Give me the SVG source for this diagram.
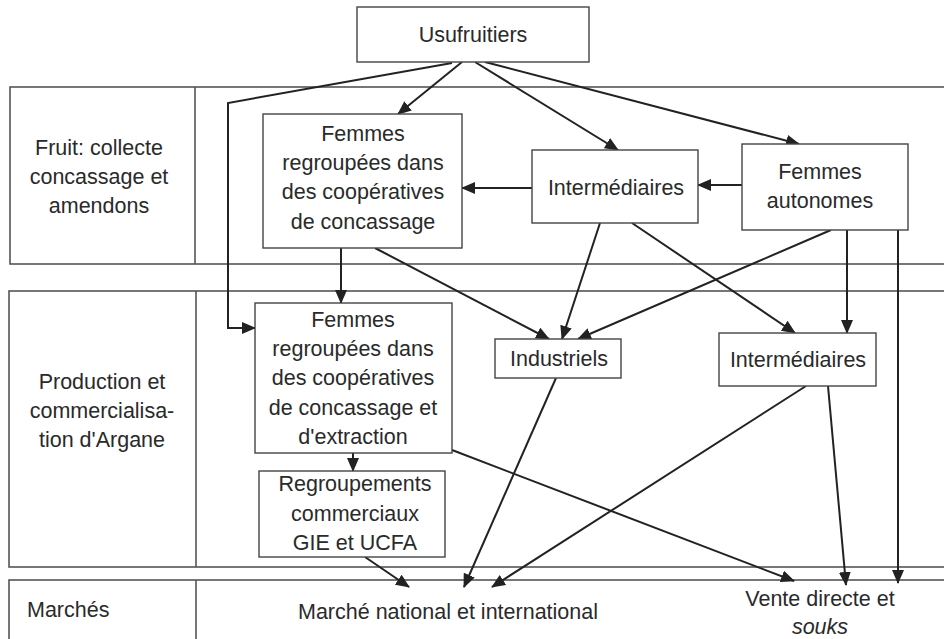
<svg xmlns="http://www.w3.org/2000/svg" width="944" height="639" viewBox="0 0 944 639">
<style>
.band{fill:none;stroke:#555;stroke-width:1.6}
.box{fill:#fff;stroke:#444;stroke-width:1.4}
.t{font-family:"Liberation Sans",Arial,sans-serif;font-size:21.5px;fill:#2a2a2a;text-anchor:middle}
.c{fill:none;stroke:#222;stroke-width:2;marker-end:url(#ah)}
.cn{fill:none;stroke:#222;stroke-width:2}
</style>
<defs>
<marker id="ah" markerUnits="userSpaceOnUse" markerWidth="14" markerHeight="12" viewBox="0 0 14 12" refX="13" refY="6" orient="auto">
<path d="M0,0 L14,6 L0,12 z" fill="#222"/>
</marker>
</defs>
<rect width="944" height="639" fill="#fff"/>
<g id="bands">
<rect class="band" x="10" y="87" width="950" height="177"/>
<line class="band" x1="195" y1="87" x2="195" y2="264"/>
<rect class="band" x="9" y="291" width="950" height="276"/>
<line class="band" x1="196" y1="291" x2="196" y2="567"/>
<rect class="band" x="9" y="580" width="950" height="80"/>
<line class="band" x1="196" y1="580" x2="196" y2="639"/>
<text class="t" x="99" y="155">Fruit: collecte</text>
<text class="t" x="99" y="184">concassage et</text>
<text class="t" x="99" y="213">amendons</text>
<text class="t" x="102" y="389">Production et</text>
<text class="t" x="102" y="418">commercialisa-</text>
<text class="t" x="102" y="447">tion d'Argane</text>
<text class="t" x="27" y="617" style="text-anchor:start">Marchés</text>
</g>
<g id="connectors">
<line class="c" x1="462" y1="62" x2="398" y2="114"/>
<polyline class="c" points="452,63 228,103 228,328 255,328"/>
<line class="c" x1="475" y1="62" x2="618" y2="150"/>
<line class="c" x1="485" y1="62" x2="799" y2="144"/>
<line class="c" x1="742" y1="185" x2="698" y2="185"/>
<line class="c" x1="532" y1="188" x2="462" y2="188"/>
<line class="c" x1="341" y1="248" x2="341" y2="303"/>
<line class="c" x1="375" y1="248" x2="549" y2="339"/>
<line class="c" x1="600" y1="223" x2="562" y2="339"/>
<line class="c" x1="632" y1="223" x2="795" y2="333"/>
<line class="c" x1="831" y1="230" x2="578" y2="339"/>
<line class="c" x1="847" y1="230" x2="847" y2="333"/>
<line class="c" x1="898" y1="230" x2="898" y2="583"/>
<line class="c" x1="353" y1="453" x2="353" y2="471"/>
<line class="c" x1="452" y1="450" x2="794" y2="581"/>
<line class="c" x1="365" y1="557" x2="409" y2="587"/>
<line class="c" x1="556" y1="378" x2="464" y2="587"/>
<line class="c" x1="806" y1="386" x2="492" y2="587"/>
<line class="c" x1="828" y1="386" x2="846" y2="585"/>
</g>
<g id="usufruitiers">
<rect class="box" x="357" y="7" width="232" height="55"/>
<text class="t" x="473" y="42">Usufruitiers</text>
</g>
<g id="femmes-concassage">
<rect class="box" x="263" y="114" width="199" height="134"/>
<text class="t" x="363" y="141">Femmes</text>
<text class="t" x="363" y="170">regroupées dans</text>
<text class="t" x="363" y="199">des coopératives</text>
<text class="t" x="363" y="229">de concassage</text>
</g>
<g id="intermediaires-1">
<rect class="box" x="532" y="150" width="166" height="73"/>
<text class="t" x="616" y="195">Intermédiaires</text>
</g>
<g id="femmes-autonomes">
<rect class="box" x="742" y="144" width="166" height="86"/>
<text class="t" x="820" y="179">Femmes</text>
<text class="t" x="820" y="208">autonomes</text>
</g>
<g id="femmes-extraction">
<rect class="box" x="255" y="303" width="197" height="150"/>
<text class="t" x="353" y="327">Femmes</text>
<text class="t" x="353" y="356">regroupées dans</text>
<text class="t" x="353" y="385">des coopératives</text>
<text class="t" x="353" y="415">de concassage et</text>
<text class="t" x="353" y="444">d'extraction</text>
</g>
<g id="regroupements">
<rect class="box" x="259" y="471" width="186" height="86"/>
<text class="t" x="355" y="491">Regroupements</text>
<text class="t" x="355" y="521">commerciaux</text>
<text class="t" x="355" y="550">GIE et UCFA</text>
</g>
<g id="industriels">
<rect class="box" x="495" y="339" width="126" height="39"/>
<text class="t" x="559" y="366">Industriels</text>
</g>
<g id="intermediaires-2">
<rect class="box" x="719" y="333" width="157" height="53"/>
<text class="t" x="798" y="367">Intermédiaires</text>
</g>
<g id="marche">
<text class="t" x="448" y="619">Marché national et international</text>
</g>
<g id="vente">
<text class="t" x="820" y="606">Vente directe et</text>
<text class="t" x="820" y="634" style="font-style:italic">souks</text>
</g>
</svg>
